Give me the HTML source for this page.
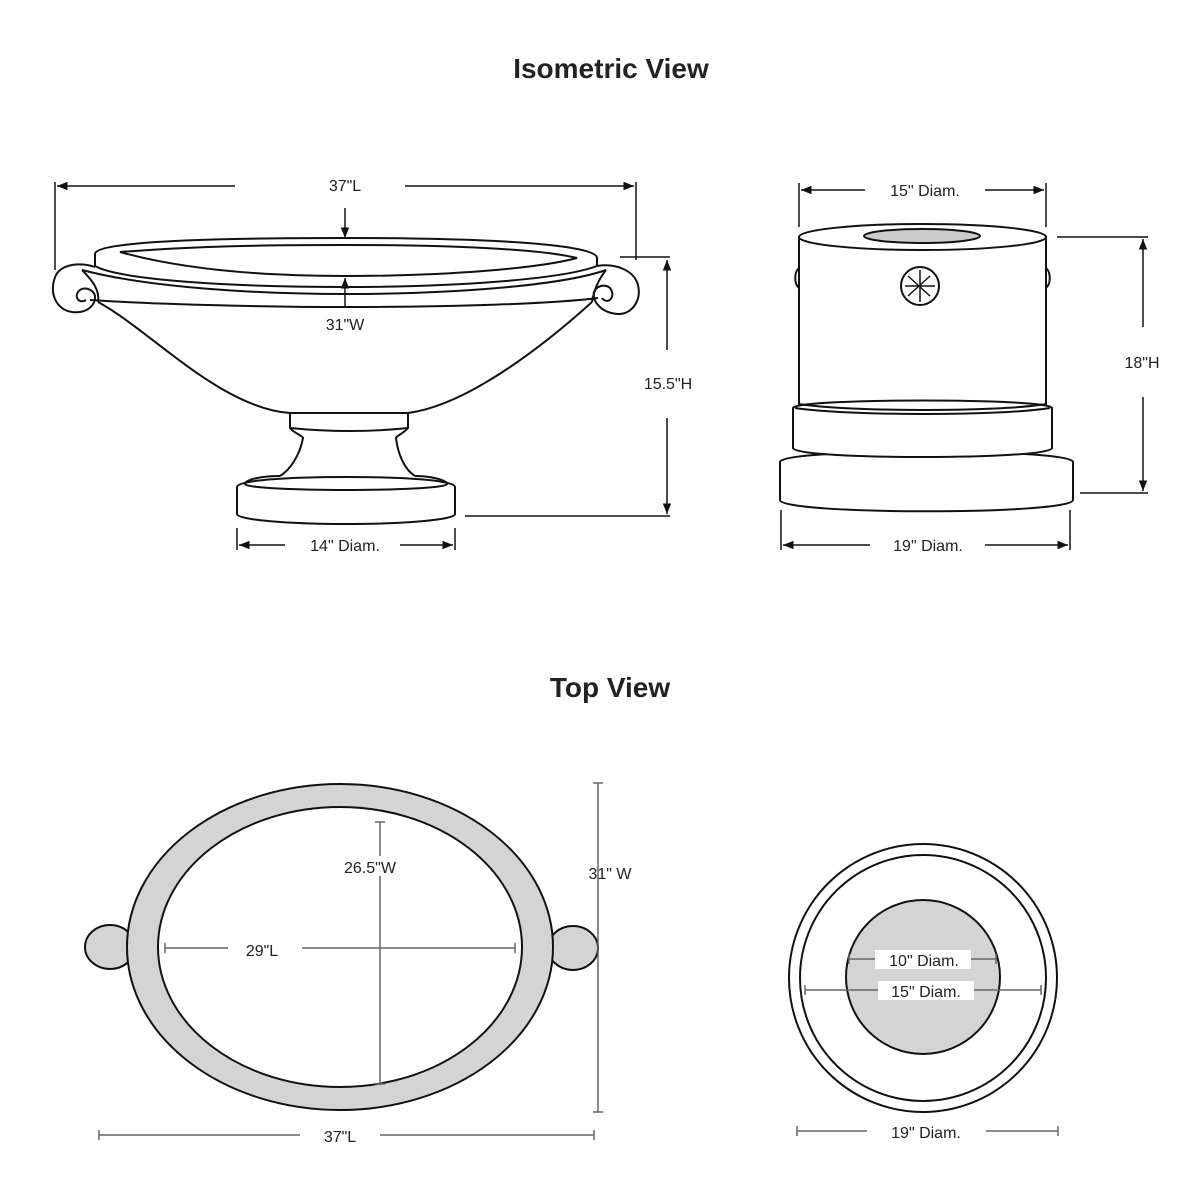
<!DOCTYPE html>
<html><head><style>
html,body{margin:0;padding:0;background:#fff;}
svg{display:block;}
text{font-family:"Liberation Sans",sans-serif;fill:#222;}
</style></head><body>
<svg width="1200" height="1200" viewBox="0 0 1200 1200" xmlns="http://www.w3.org/2000/svg">
<defs>
<marker id="a" viewBox="0 0 10 10" refX="10" refY="5" markerWidth="9" markerHeight="7" orient="auto-start-reverse"><path d="M0,1 L10,5 L0,9 z" fill="#111"/></marker>
</defs>
<text x="611" y="78" font-size="28" font-weight="bold" text-anchor="middle">Isometric View</text>
<text x="610" y="697" font-size="28" font-weight="bold" text-anchor="middle">Top View</text>

<!-- Bowl isometric -->
<g fill="none" stroke="#111" stroke-width="2">
<path d="M98,302 C150,330 220,408 290,413 L408,413 C470,405 550,340 592,302"/>
<path d="M95,254 C95,242 200,238 345,238 C500,238 597,245 597,258 L597,266 C560,280 450,287 345,287 C230,287 120,280 95,266 Z" fill="#fff"/>
<path d="M120,252 C200,246 260,245 345,245 C450,245 540,249 577,258 C540,268 450,276 345,276 C240,276 170,266 120,252 Z"/>
<path d="M82,270 C150,288 260,294 345,294 C450,294 560,286 606,270"/>
<path d="M90,300 C150,304 260,307 345,307 C450,307 550,304 598,298"/>
<path d="M95,267 C80,262 62,264 56,275 C48,292 56,310 72,312 C88,314 96,304 95,296 C93,288 82,286 78,292 C74,298 80,304 86,300"/>
<path d="M82,270 C92,280 100,290 98,302"/>
<path d="M597,266 C615,263 634,270 638,285 C642,302 630,315 618,314 C602,313 592,302 594,292 C597,284 610,283 612,292 C614,300 606,304 602,298"/>
<path d="M606,270 C598,280 594,290 592,302"/>
<path d="M290,413 L290,428 C295,434 302,435 303,438 C300,455 290,470 280,476 M408,413 L408,428 C403,434 397,435 396,438 C398,455 405,470 415,476"/>
<path d="M290,428 C330,432 370,432 408,428"/>
<path d="M280,476 C260,476 245,480 245,484 C245,488 300,490 346,490 C392,490 447,488 447,484 C447,480 430,476 415,476"/>
<path d="M237,487 C237,480 290,477 346,477 C402,477 455,480 455,487 L455,514 C455,520 402,524 346,524 C290,524 237,520 237,514 Z"/>
</g>
<g stroke="#111" stroke-width="1.5" fill="none">
<line x1="55" y1="182" x2="55" y2="270"/><line x1="636" y1="182" x2="636" y2="260"/>
<line x1="57" y1="186" x2="235" y2="186" marker-start="url(#a)"/>
<line x1="405" y1="186" x2="634" y2="186" marker-end="url(#a)"/>
<line x1="345" y1="208" x2="345" y2="238" marker-end="url(#a)"/>
<line x1="345" y1="308" x2="345" y2="278" marker-end="url(#a)"/>
<line x1="620" y1="257" x2="670" y2="257"/><line x1="465" y1="516" x2="670" y2="516"/>
<line x1="667" y1="260" x2="667" y2="350" marker-start="url(#a)"/>
<line x1="667" y1="418" x2="667" y2="514" marker-end="url(#a)"/>
<line x1="237" y1="528" x2="237" y2="550"/><line x1="455" y1="528" x2="455" y2="550"/>
<line x1="239" y1="545" x2="285" y2="545" marker-start="url(#a)"/>
<line x1="400" y1="545" x2="453" y2="545" marker-end="url(#a)"/>
</g>
<text x="345" y="191" font-size="16" text-anchor="middle">37"L</text>
<text x="345" y="330" font-size="16" text-anchor="middle">31"W</text>
<text x="668" y="389" font-size="16" text-anchor="middle">15.5"H</text>
<text x="345" y="551" font-size="16" text-anchor="middle">14" Diam.</text>

<!-- Pedestal isometric -->
<g fill="none" stroke="#111" stroke-width="2">
<path d="M780,462 C780,448 1073,448 1073,462 L1073,500 C1073,515 780,515 780,500 Z" fill="#fff"/>
<path d="M793,408 C793,398 1052,398 1052,408 L1052,448 C1052,460 793,460 793,448 Z" fill="#fff"/>
<path d="M799,237 L799,404 C850,412 1000,412 1046,404 L1046,237"/>
<ellipse cx="922.5" cy="237" rx="123.5" ry="13" fill="#fff"/>
<ellipse cx="922" cy="236" rx="58" ry="7" fill="#ccc"/>
<path d="M795,408 C850,416 1000,416 1050,408"/>
<circle cx="920" cy="286" r="19" fill="#fff"/>
<path d="M908,276 L930,296 M930,276 L908,296 M905,286 L935,286 M920,270 L920,302" stroke-width="1.5"/>
<path d="M799,268 C794,272 794,284 799,288 M1046,268 C1051,272 1051,284 1046,288"/>
</g>
<g stroke="#111" stroke-width="1.5" fill="none">
<line x1="799" y1="183" x2="799" y2="227"/><line x1="1046" y1="183" x2="1046" y2="227"/>
<line x1="801" y1="190" x2="865" y2="190" marker-start="url(#a)"/>
<line x1="985" y1="190" x2="1044" y2="190" marker-end="url(#a)"/>
<line x1="1057" y1="237" x2="1148" y2="237"/><line x1="1080" y1="493" x2="1148" y2="493"/>
<line x1="1143" y1="239" x2="1143" y2="327" marker-start="url(#a)"/>
<line x1="1143" y1="397" x2="1143" y2="491" marker-end="url(#a)"/>
<line x1="781" y1="510" x2="781" y2="550"/><line x1="1070" y1="510" x2="1070" y2="550"/>
<line x1="783" y1="545" x2="870" y2="545" marker-start="url(#a)"/>
<line x1="985" y1="545" x2="1068" y2="545" marker-end="url(#a)"/>
</g>
<text x="925" y="196" font-size="16" text-anchor="middle">15" Diam.</text>
<text x="1142" y="368" font-size="16" text-anchor="middle">18"H</text>
<text x="928" y="551" font-size="16" text-anchor="middle">19" Diam.</text>

<!-- Top view oval -->
<g stroke="#111" stroke-width="2">
<ellipse cx="110" cy="947" rx="25" ry="22" fill="#d4d4d4"/>
<ellipse cx="573" cy="948" rx="25" ry="22" fill="#d4d4d4"/>
<ellipse cx="340" cy="947" rx="213" ry="163" fill="#d4d4d4"/>
<ellipse cx="340" cy="947" rx="182" ry="140" fill="#fff"/>
</g>
<g stroke="#666" stroke-width="1.5" fill="none">
<line x1="380" y1="822" x2="380" y2="1085"/>
<line x1="375" y1="822" x2="385" y2="822"/><line x1="375" y1="1084" x2="385" y2="1084"/>
<line x1="165" y1="948" x2="228" y2="948"/><line x1="302" y1="948" x2="515" y2="948"/>
<line x1="165" y1="943" x2="165" y2="953"/><line x1="515" y1="943" x2="515" y2="953"/>
<line x1="598" y1="783" x2="598" y2="1112"/>
<line x1="593" y1="783" x2="603" y2="783"/><line x1="593" y1="1112" x2="603" y2="1112"/>
<line x1="99" y1="1135" x2="300" y2="1135"/><line x1="380" y1="1135" x2="594" y2="1135"/>
<line x1="99" y1="1130" x2="99" y2="1140"/><line x1="594" y1="1130" x2="594" y2="1140"/>
</g>
<rect x="348" y="856" width="60" height="20" fill="#fff"/>
<text x="370" y="873" font-size="16" text-anchor="middle">26.5"W</text>
<text x="262" y="956" font-size="16" text-anchor="middle">29"L</text>
<text x="610" y="879" font-size="16" text-anchor="middle">31" W</text>
<text x="340" y="1142" font-size="16" text-anchor="middle">37"L</text>

<!-- Top view circle -->
<g stroke="#111" stroke-width="2">
<circle cx="923" cy="978" r="134" fill="#fff"/>
<circle cx="923" cy="978" r="123" fill="#fff"/>
<circle cx="923" cy="977" r="77" fill="#d4d4d4"/>
</g>
<g stroke="#666" stroke-width="1.5">
<line x1="849" y1="959" x2="996" y2="959"/>
<line x1="849" y1="954" x2="849" y2="964"/><line x1="996" y1="954" x2="996" y2="964"/>
<line x1="805" y1="990" x2="1041" y2="990"/>
<line x1="805" y1="985" x2="805" y2="995"/><line x1="1041" y1="985" x2="1041" y2="995"/>
<line x1="797" y1="1131" x2="867" y2="1131"/><line x1="986" y1="1131" x2="1058" y2="1131"/>
<line x1="797" y1="1126" x2="797" y2="1136"/><line x1="1058" y1="1126" x2="1058" y2="1136"/>
</g>
<rect x="875" y="950" width="96" height="19" fill="#fff"/>
<rect x="878" y="981" width="96" height="19" fill="#fff"/>
<text x="924" y="966" font-size="16" text-anchor="middle">10" Diam.</text>
<text x="926" y="997" font-size="16" text-anchor="middle">15" Diam.</text>
<text x="926" y="1138" font-size="16" text-anchor="middle">19" Diam.</text>
</svg>
</body></html>
